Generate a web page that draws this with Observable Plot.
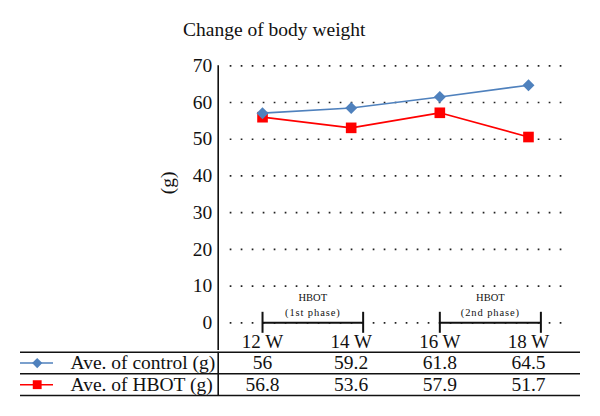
<!DOCTYPE html>
<html>
<head>
<meta charset="utf-8">
<script src="https://cdn.jsdelivr.net/npm/d3@7"></script>
<script src="https://cdn.jsdelivr.net/npm/@observablehq/plot@0.6"></script>
<style>
  html, body { margin: 0; padding: 0; background: #fff; }
  #wrap { position: relative; width: 600px; height: 416px; overflow: hidden; background: #fff; }
  #title { position: absolute; left: 183px; top: 20px; font: 19.5px "Liberation Serif", "Times New Roman", serif; line-height: 1; color: #111; white-space: nowrap; }
  #wrap svg { display: block; }
  #chart { position: absolute; left: 0; top: 0; }
  #table { position: absolute; left: 0; top: 350px; }
</style>
</head>
<body>
<div id="wrap">
  <div id="chart"></div>
  <div id="table"></div>
  <div id="title">Change of body weight</div>
</div>
<script>
// ---- data ----
const weeks = [12, 14, 16, 18];
const weekLabels = ["12 W", "14 W", "16 W", "18 W"];
const controlPlotted = [57.1, 58.5, 61.5, 64.7];   // marker heights as drawn
const hbotPlotted = [56.0, 53.1, 57.2, 50.6];
const controlTable = ["56", "59.2", "61.8", "64.5"]; // table row texts
const hbotTable = ["56.8", "53.6", "57.9", "51.7"];
const seriesNames = ["Ave. of control (g)", "Ave. of HBOT (g)"];
const yTicks = [0, 10, 20, 30, 40, 50, 60, 70];
const phaseStart = [12, 16];
const phaseEnd = [14.27, 18.28];
const phaseTop = ["HBOT", "HBOT"];
const phaseSub = ["(1st phase)", "(2nd phase)"];
const yLabel = "(g)";

// ---- styles ----
const FONT = '"Liberation Serif", "Times New Roman", serif';
const FS = 19.5;
const BLUE = "#4F81BD";
const RED = "#FF0000";
const X_DOMAIN = [11, 19];
const ML = 217.7, MR = 27.7;
const TOP_H = 360, MB = TOP_H - 322.3;

const control = weeks.map((w, i) => ({week: w, value: controlPlotted[i]}));
const hbot = weeks.map((w, i) => ({week: w, value: hbotPlotted[i]}));
const phases = phaseStart.map((s, i) => ({start: s, end: phaseEnd[i], top: phaseTop[i], sub: phaseSub[i]}));
const phaseEnds = phases.flatMap(p => [p.start, p.end]);

const chart = Plot.plot({
  width: 600,
  height: TOP_H,
  marginTop: 65.3,
  marginBottom: MB,
  marginLeft: ML,
  marginRight: MR,
  style: {fontFamily: FONT, fontSize: FS + "px", background: "transparent", color: "#111"},
  x: {domain: X_DOMAIN, axis: null},
  y: {domain: [0, 70], axis: null, label: null},
  marks: [
    Plot.ruleY(yTicks, {stroke: "#222", strokeWidth: 1.7, strokeDasharray: "1.7,9.3", insetLeft: 12, insetRight: 7}),
    Plot.axisY(yTicks, {label: null, tickSize: 0, tickPadding: 6, fontSize: FS, fontFamily: FONT, fontVariant: "normal"}),
    Plot.ruleX([X_DOMAIN[0]], {stroke: "#111", strokeWidth: 1.6, insetBottom: -27.7}),
    Plot.text([yLabel], {frameAnchor: "left", dx: -50, rotate: -90, fontSize: FS, fontFamily: FONT}),
    // phase brackets
    Plot.ruleY(phases, {y: 0, x1: "start", x2: "end", stroke: "#111", strokeWidth: 2}),
    Plot.ruleX(phaseEnds, {x: d => d, y1: 0, y2: 0, insetTop: -10.5, insetBottom: -10.5, stroke: "#111", strokeWidth: 2}),
    Plot.text(phases, {x: d => (d.start + d.end) / 2, y: 0, text: "top", dy: -25.5, fontSize: 10.5, fontFamily: FONT}),
    Plot.text(phases, {x: d => (d.start + d.end) / 2, y: 0, text: "sub", dy: -10, fontSize: 10.5, fontFamily: FONT}),
    // week labels
    Plot.text(weeks, {x: d => d, y: 0, text: (d, i) => weekLabels[i], dy: 19.5, fontSize: 19, fontFamily: FONT, fontVariant: "normal"}),
    // series
    Plot.line(hbot, {x: "week", y: "value", stroke: RED, strokeWidth: 1.7}),
    Plot.dot(hbot, {x: "week", y: "value", symbol: "square", r: 6.0, fill: RED}),
    Plot.line(control, {x: "week", y: "value", stroke: BLUE, strokeWidth: 1.7}),
    Plot.dot(control, {x: "week", y: "value", symbol: "diamond2", r: 5.4, fill: BLUE})
  ]
});
d3.select(chart).selectAll("text")
  .filter(function() { return phaseSub.includes(this.textContent); })
  .style("letter-spacing", "0.9px");
document.getElementById("chart").appendChild(chart);

// ---- table ----
const rowValues = [controlTable, hbotTable];
const rowColors = [BLUE, RED];
const rowSymbols = ["diamond2", "square"];
const rowR = [4.6, 5.0];
const nRows = seriesNames.length;

const tableMarks = [
  Plot.ruleY(d3.range(nRows + 1), {stroke: "#111", strokeWidth: 1.5, insetLeft: -197.7, insetRight: -7.7}),
  Plot.ruleX([X_DOMAIN[0]], {stroke: "#111", strokeWidth: 1.6}),
  Plot.text(seriesNames, {y: (d, i) => i + 0.5, frameAnchor: "left", textAnchor: "start", dx: -147.7, fontSize: FS, fontFamily: FONT})
];
rowValues.forEach((vals, r) => {
  tableMarks.push(
    Plot.ruleY([r + 0.5], {stroke: rowColors[r], strokeWidth: 1.6, insetLeft: -197.7, insetRight: 519.3}),
    Plot.dot([r + 0.5], {y: d => d, frameAnchor: "left", dx: -181, symbol: rowSymbols[r], r: rowR[r], fill: rowColors[r]}),
    Plot.text(weeks, {x: d => d, y: () => r + 0.5, text: (d, i) => vals[i], fontSize: FS, fontFamily: FONT, fontVariant: "normal"})
  );
});

const table = Plot.plot({
  width: 600,
  height: 66,
  marginTop: 1.7,
  marginBottom: 21,
  marginLeft: ML,
  marginRight: MR,
  style: {fontFamily: FONT, fontSize: FS + "px", background: "transparent", color: "#111", overflow: "visible"},
  x: {domain: X_DOMAIN, axis: null},
  y: {domain: [0, nRows], reverse: true, axis: null},
  marks: tableMarks
});
document.getElementById("table").appendChild(table);
</script>
</body>
</html>
